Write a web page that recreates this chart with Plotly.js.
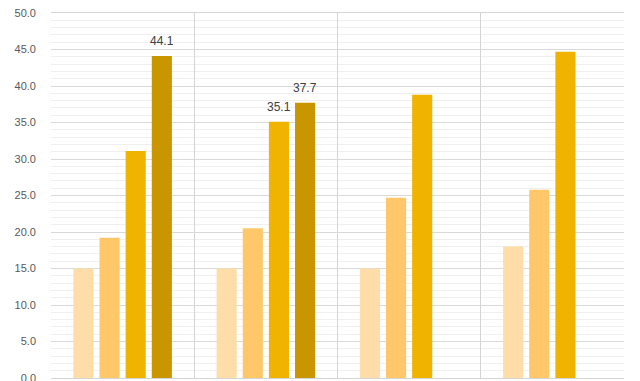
<!DOCTYPE html>
<html>
<head>
<meta charset="utf-8">
<script src="https://cdn.plot.ly/plotly-3.0.1.min.js"></script>
<style>html,body{margin:0;padding:0;background:#fff;}#chart{width:640px;height:381px;}</style>
</head>
<body>
<div id="chart"></div>
<script>
const categories = ["G1", "G2", "G3", "G4"];
const series1 = [15.0, 15.0, 15.0, 18.0];
const series2 = [19.2, 20.5, 24.7, 25.8];
const series3 = [31.1, 35.1, 38.8, 44.7];
const series4 = [44.1, 37.7, null, null];
const showLabel1 = [false, false, false, false];
const showLabel2 = [false, false, false, false];
const showLabel3 = [false, true, false, false];
const showLabel4 = [true, true, false, false];
const colors = ["#FEDDA9", "#FEC86A", "#F0B400", "#C99600"];

const seriesList = [series1, series2, series3, series4];
const showList = [showLabel1, showLabel2, showLabel3, showLabel4];

const W = 640, H = 381;
const margin = {l: 51, r: 16, t: 13, b: 3};
const bargap = 0.27, bargroupgap = 0.23;

const traces = seriesList.map((s, i) => ({
  type: "bar",
  x: categories,
  y: s,
  marker: {color: colors[i]},
  hoverinfo: "y"
}));

// data labels placed at each labelled bar's value
const plotW = W - margin.l - margin.r;
const catW = plotW / categories.length;
const slotW = catW * (1 - bargap) / seriesList.length;
const annotations = [];
seriesList.forEach((s, i) => {
  s.forEach((v, j) => {
    if (showList[i][j] && v != null) {
      annotations.push({
        x: categories[j], y: v, xref: "x", yref: "y",
        text: v.toFixed(1), showarrow: false,
        xanchor: "center", yanchor: "bottom",
        xshift: (i - (seriesList.length - 1) / 2) * slotW,
        yshift: 6,
        font: {family: "Liberation Sans, Arial, sans-serif", size: 12, color: "#404040"}
      });
    }
  });
});

const layout = {
  width: W,
  height: H,
  margin: margin,
  paper_bgcolor: "#ffffff",
  plot_bgcolor: "#ffffff",
  showlegend: false,
  barmode: "group",
  bargap: bargap,
  bargroupgap: bargroupgap,
  annotations: annotations,
  font: {family: "Liberation Sans, Arial, sans-serif", size: 11, color: "#595959"},
  xaxis: {
    type: "category",
    showticklabels: false,
    tickson: "boundaries",
    showgrid: true,
    gridcolor: "#d4d4d4",
    gridwidth: 1,
    ticks: "",
    showline: true,
    linecolor: "#d4d4d4",
    mirror: true,
    zeroline: false
  },
  yaxis: {
    range: [0, 50],
    dtick: 5,
    tickformat: ".1f",
    showgrid: true,
    gridcolor: "#d9d9d9",
    gridwidth: 1,
    minor: {dtick: 1, showgrid: true, gridcolor: "#efefef", gridwidth: 1},
    zeroline: false,
    showline: false,
    ticks: "",
    ticklabelstandoff: 14,
    ticklabeloverflow: "allow",
    tickfont: {family: "Liberation Sans, Arial, sans-serif", size: 11, color: "#595959"}
  }
};

Plotly.newPlot("chart", traces, layout, {displayModeBar: false, staticPlot: true});
</script>
</body>
</html>
